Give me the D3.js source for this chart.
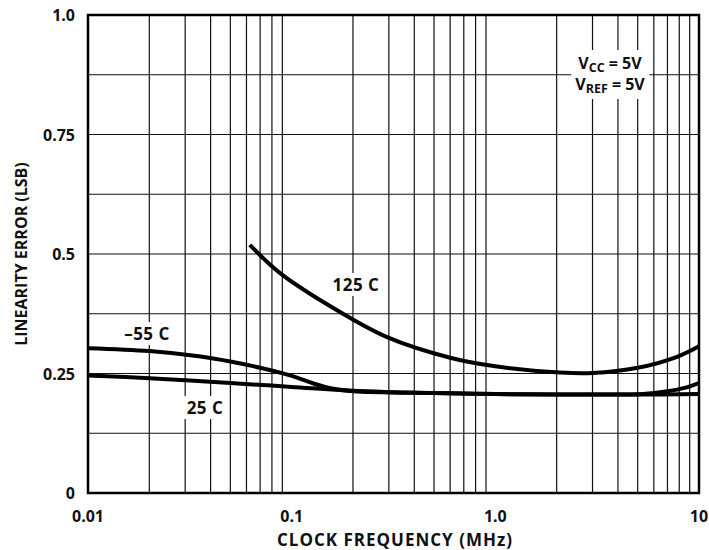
<!DOCTYPE html>
<html>
<head>
<meta charset="utf-8">
<script src="https://cdn.jsdelivr.net/npm/d3@7"></script>
<style>
  body { margin: 0; background: #fff; }
  text { font-family: "Open Sans", Lato, sans-serif; font-weight: bold; fill: #111; }
</style>
</head>
<body>
<div id="chart"></div>
<script>
const width = 709;
const height = 550;

// data
const freqM55 = [0.01, 0.02, 0.035, 0.05, 0.07, 0.1, 0.13, 0.16, 0.2, 0.5, 1, 2, 4, 5.3, 7, 8.5, 10];
const errM55  = [0.303, 0.297, 0.286, 0.275, 0.262, 0.245, 0.228, 0.218, 0.213, 0.209, 0.207, 0.206, 0.206, 0.207, 0.213, 0.220, 0.230];

const freq25 = [0.01, 0.02, 0.05, 0.1, 0.2, 0.5, 1, 2, 5, 10];
const err25  = [0.246, 0.240, 0.230, 0.222, 0.214, 0.209, 0.207, 0.206, 0.206, 0.207];

const freq125 = [0.0623, 0.0877, 0.16, 0.294, 0.6, 1.0, 2.07, 3.0, 5.0, 7.8, 10];
const err125  = [0.519, 0.460, 0.387, 0.326, 0.283, 0.265, 0.252, 0.251, 0.262, 0.285, 0.307];

const xTicks = [0.01, 0.1, 1, 10];
const xTickLabels = ["0.01", "0.1", "1.0", "10"];
const yTicks = [0, 0.25, 0.5, 0.75, 1.0];
const yTickLabels = ["0", "0.25", "0.5", "0.75", "1.0"];

const margin = {top: 15, right: 10, bottom: 57, left: 88};

const x = d3.scaleLog().domain([0.01, 10]).range([margin.left, width - margin.right]);
const y = d3.scaleLinear().domain([0, 1]).range([height - margin.bottom, margin.top]);

const svg = d3.select("#chart").append("svg")
  .attr("width", width)
  .attr("height", height);

// grid
const grid = svg.append("g").attr("stroke", "#111").attr("stroke-width", 1.2);
const minor = [];
[0.01, 0.1, 1].forEach(d => { for (let k = 2; k <= 9; k++) minor.push(d * k); });
grid.selectAll("line.v").data(minor).join("line")
  .attr("class", "v")
  .attr("x1", d => x(d)).attr("x2", d => x(d))
  .attr("y1", y(0)).attr("y2", y(1));
grid.selectAll("line.h").data(d3.range(1, 8).map(i => i * 0.125)).join("line")
  .attr("class", "h")
  .attr("x1", x(0.01)).attr("x2", x(10))
  .attr("y1", d => y(d)).attr("y2", d => y(d));

// curves
const line = d3.line()
  .x(d => x(d[0]))
  .y(d => y(d[1]))
  .curve(d3.curveCatmullRom.alpha(0.5));

const series = [
  d3.zip(freqM55, errM55),
  d3.zip(freq25, err25),
  d3.zip(freq125, err125)
];

// labels with white backing
function label(txt, cx, cy) {
  const g = svg.append("g");
  const t = g.append("text")
    .attr("x", cx).attr("y", cy)
    .attr("text-anchor", "middle")
    .attr("font-size", 17)
    .attr("letter-spacing", 0.5)
    .text(txt);
  const b = t.node().getBBox();
  g.insert("rect", "text")
    .attr("x", b.x - 3).attr("y", b.y)
    .attr("width", b.width + 6).attr("height", b.height)
    .attr("fill", "#fff");
  return g;
}

label("125 C", 356, 291);
label("\u201355 C", 147, 340);
label("25 C", 205, 414);

// Vcc / Vref box
const note = svg.append("g");
const bg = note.append("rect").attr("fill", "#fff");
function vline(yy, sub) {
  const t = note.append("text").attr("x", 610).attr("y", yy).attr("text-anchor", "middle").attr("font-size", 16);
  t.append("tspan").text("V");
  t.append("tspan").text(sub).attr("font-size", 12.5).attr("dy", 3);
  t.append("tspan").text(" = 5V").attr("dy", -3);
  return t;
}
const n1 = vline(69, "CC");
const n2 = vline(90, "REF");
const b1 = n1.node().getBBox(), b2 = n2.node().getBBox();
const bx0 = Math.min(b1.x, b2.x) - 4, bx1 = Math.max(b1.x + b1.width, b2.x + b2.width) + 4;
bg.attr("x", bx0).attr("y", b1.y - 2).attr("width", bx1 - bx0).attr("height", b2.y + b2.height - b1.y + 4);

svg.append("g")
  .attr("fill", "none")
  .attr("stroke", "#000")
  .attr("stroke-width", 4)
  .attr("stroke-linecap", "butt")
  .selectAll("path")
  .data(series)
  .join("path")
  .attr("d", line);

// frame
svg.append("rect")
  .attr("x", x(0.01)).attr("y", y(1))
  .attr("width", x(10) - x(0.01)).attr("height", y(0) - y(1))
  .attr("fill", "none").attr("stroke", "#000").attr("stroke-width", 2.5);

// tick labels
svg.append("g").selectAll("text").data(yTicks).join("text")
  .attr("x", 75).attr("y", d => y(d) + 6)
  .attr("text-anchor", "end")
  .attr("font-size", 16)
  .text((d, i) => yTickLabels[i]);

svg.append("g").selectAll("text").data(xTicks).join("text")
  .attr("x", d => x(d)).attr("y", 522)
  .attr("text-anchor", "middle")
  .attr("font-size", 16)
  .text((d, i) => xTickLabels[i]);

// axis titles
svg.append("text")
  .attr("x", 395).attr("y", 546)
  .attr("text-anchor", "middle")
  .attr("font-size", 17)
  .attr("letter-spacing", 1)
  .text("CLOCK FREQUENCY (MHz)");

svg.append("text")
  .attr("transform", `translate(27, ${y(0.5)}) rotate(-90)`)
  .attr("text-anchor", "middle")
  .attr("font-size", 16)
  .text("LINEARITY ERROR (LSB)");
</script>
</body>
</html>
